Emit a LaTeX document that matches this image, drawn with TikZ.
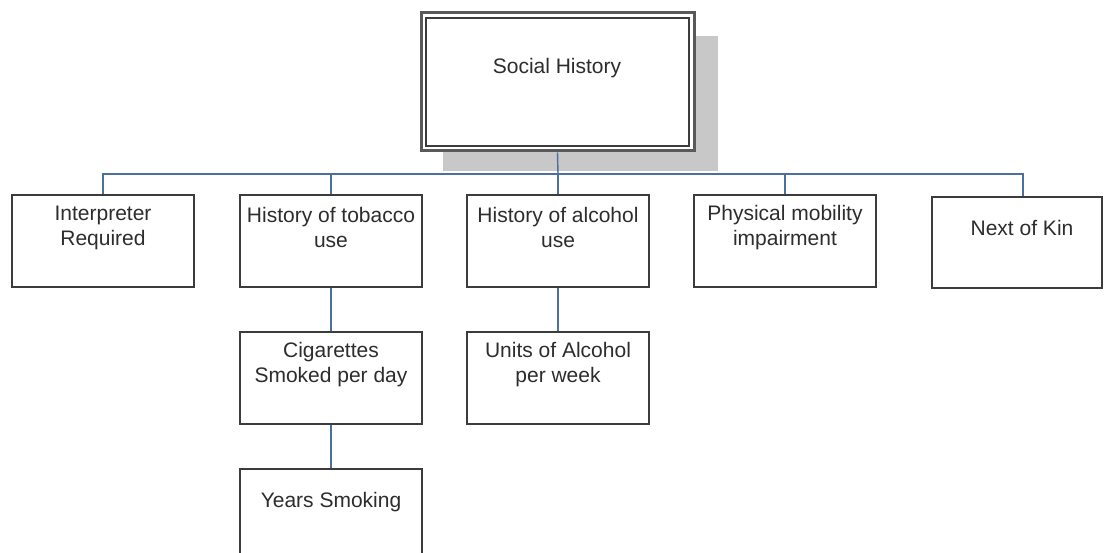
\documentclass[tikz,border=0pt]{standalone}
\usepackage{fontspec}
\setmainfont{Liberation Sans}
\begin{document}
\begin{tikzpicture}[x=1pt,y=-1pt,
  box/.style={draw=boxc, line width=1.8pt, fill=white, rectangle, inner sep=0pt, minimum width=182pt, minimum height=92pt},
  txt/.style={align=center, text=txtc, inner sep=0pt, font=\fontsize{21}{25}\selectfont},
  conn/.style={draw=connc, line width=1.4pt}]
\definecolor{boxc}{RGB}{60,60,60}
\definecolor{txtc}{RGB}{45,45,45}
\definecolor{connc}{RGB}{75,112,160}
\definecolor{shadowc}{RGB}{200,200,200}
\useasboundingbox (0,0) rectangle (1104,553);
\begin{scope}
\clip (0,0) rectangle (1104,553);
% shadow of top box
\fill[shadowc] (443,36) rectangle (718,171);
% top box (double border)
\node[box, minimum width=273pt, minimum height=138pt, line width=3pt, draw=gray!70!black] (top) at (557.5,82) {};
\node[draw=boxc, line width=1.6pt, rectangle, inner sep=0pt, minimum width=263pt, minimum height=128pt] (topin) at (557.5,82) {};
\node[txt] (ttop) at (557,68) {Social History};
% row 1
\node[box] (b1) at (103,241) {};
\node[box] (b2) at (331,241) {};
\node[box] (b3) at (558,241) {};
\node[box] (b4) at (785,241) {};
\node[box, minimum width=170pt, minimum height=91pt] (b5) at (1017,242.5) {};
% row 2
\node[box] (c1) at (331,378) {};
\node[box] (c2) at (558,378) {};
% row 3
\node[box] (d1) at (331,515) {};
% texts
\node[txt] (t1) at (103,227.5) {Interpreter\\Required};
\node[txt] (t2) at (331,227.5) {History of tobacco\\use};
\node[txt] (t3) at (558,227.5) {History of alcohol\\use};
\node[txt] (t4) at (785,227.5) {Physical mobility\\impairment};
\node[txt] (t5) at (1022,228) {Next of Kin};
\node[txt] (tc1) at (331,364.5) {Cigarettes\\Smoked per day};
\node[txt] (tc2) at (558,364.5) {Units of Alcohol\\per week};
\node[txt] (td1) at (331,502) {Years Smoking};
% connectors
\coordinate (bus) at (558,174);
\draw[conn] (top.south) -- (bus);
\draw[conn] (bus) -| (b1.north);
\draw[conn] (bus) -| (b2.north);
\draw[conn] (bus) -- (b3.north);
\draw[conn] (bus) -| (b4.north);
\draw[conn] (bus) -| ([xshift=6pt]b5.north);
\draw[conn] (b2.south) -- (c1.north);
\draw[conn] (b3.south) -- (c2.north);
\draw[conn] (c1.south) -- (d1.north);
\end{scope}
\end{tikzpicture}
\end{document}
